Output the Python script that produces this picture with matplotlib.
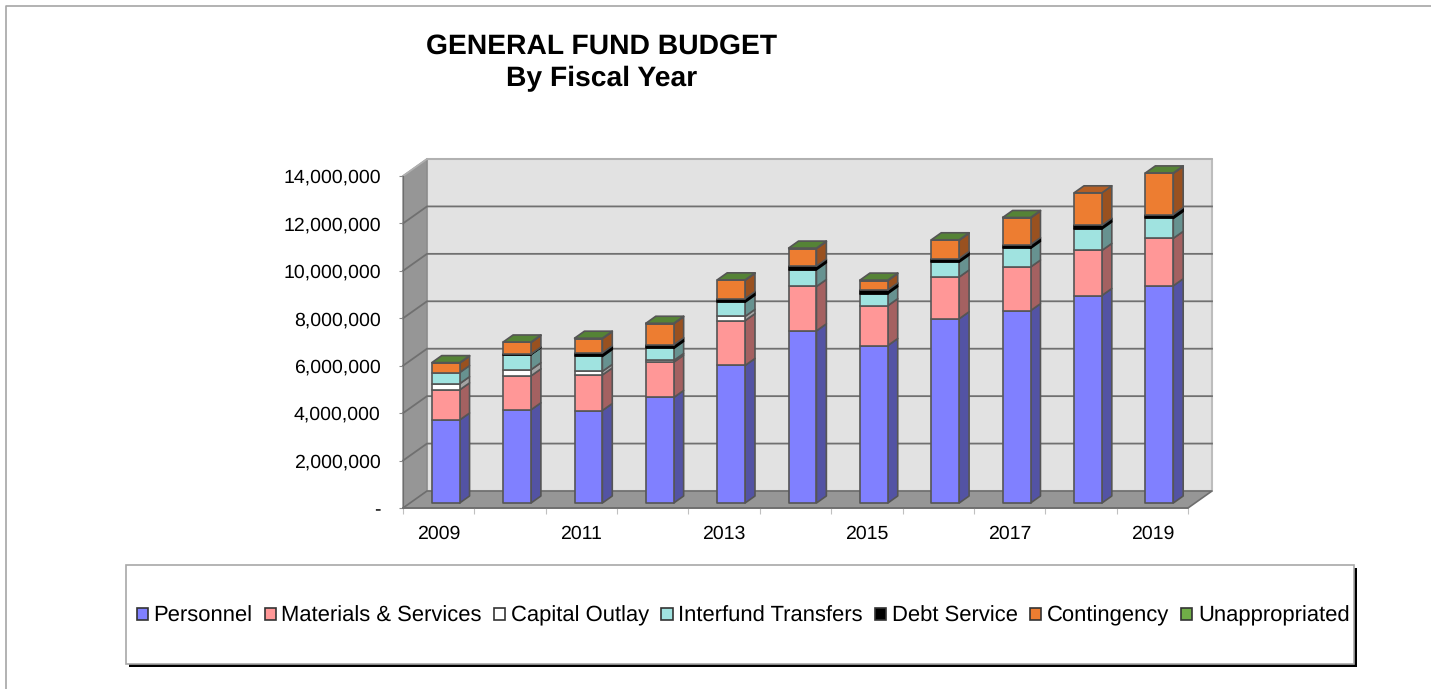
#!/usr/bin/env python
import matplotlib
matplotlib.use('Agg')
import matplotlib.pyplot as plt
from matplotlib.lines import Line2D
from matplotlib.patches import Patch, Rectangle
from matplotlib.colors import to_rgb

plt.rcParams['font.family'] = ['Liberation Sans', 'DejaVu Sans']
plt.rcParams['text.hinting'] = 'no_hinting'

W, H = 1431, 689

years = ['2009', '2010', '2011', '2012', '2013', '2014', '2015', '2016', '2017', '2018', '2019']
year_labels = ['2009', '', '2011', '', '2013', '', '2015', '', '2017', '', '2019']
series_names = ['Personnel', 'Materials & Services', 'Capital Outlay', 'Interfund Transfers',
                'Debt Service', 'Contingency', 'Unappropriated']
personnel = [3500000, 3930000, 3900000, 4450000, 5800000, 7260000, 6640000, 7770000, 8110000, 8750000, 9160000]
materials = [1270000, 1430000, 1500000, 1490000, 1890000, 1870000, 1680000, 1760000, 1840000, 1900000, 2000000]
capital = [260000, 260000, 150000, 70000, 180000, 0, 0, 0, 0, 0, 0]
interfund = [470000, 640000, 630000, 510000, 600000, 710000, 510000, 630000, 790000, 910000, 840000]
debt = [0, 20000, 150000, 150000, 150000, 150000, 150000, 150000, 150000, 150000, 160000]
contingency = [400000, 490000, 600000, 890000, 770000, 740000, 400000, 770000, 1130000, 1370000, 1740000]
unappropriated = [20000, 20000, 20000, 20000, 20000, 20000, 20000, 20000, 20000, 0, 20000]
all_series = [personnel, materials, capital, interfund, debt, contingency, unappropriated]
colors = ['#8080ff', '#ff9797', '#ffffff', '#a0e3e0', '#000000', '#ed7d31', '#70ad47']
y_ticks = [0, 2000000, 4000000, 6000000, 8000000, 10000000, 12000000, 14000000]
y_labels = ['-', '2,000,000', '4,000,000', '6,000,000', '8,000,000', '10,000,000', '12,000,000', '14,000,000']

fig = plt.figure(figsize=(W / 100, H / 100), dpi=100, facecolor='white')
ax = fig.add_axes([403 / W, 1 - 508 / H, 785 / W, 332 / H])
n = len(years)
ax.set_xlim(0, n)
ax.set_ylim(0, 14000000)

# oblique projection: d=0 is the front plane, d=1 the back wall
DX = 24 / 785 * n
DY = 17 / 332 * 14000000


def sk(x, y, d):
  return (x + d * DX, y + d * DY)


def shade(c, f):
  return tuple(v * f for v in to_rgb(c))


def poly(pts, fc, ec='#555555', lw=1.2, z=2):
  ax.fill([p[0] for p in pts], [p[1] for p in pts], fc=fc, ec=ec, lw=lw, zorder=z,
          clip_on=False, joinstyle='round')


top = y_ticks[-1]
poly([sk(0, 0, 1), sk(n, 0, 1), sk(n, top, 1), sk(0, top, 1)], '#e2e2e2', ec='#bdbdbd', lw=1.5, z=1)
poly([sk(0, 0, 0), sk(0, 0, 1), sk(0, top, 1), sk(0, top, 0)], '#969696', ec='#8a8a8a', lw=1.0, z=1)
poly([sk(0, 0, 0), sk(n, 0, 0), sk(n, 0, 1), sk(0, 0, 1)], '#969696', ec='#6e6e6e', lw=1.2, z=1)

# grid runs across the left wall and along the back wall
for v in y_ticks:
  xs, ys = zip(sk(0, v, 0), sk(0, v, 1), sk(n, v, 1))
  if v == 0:
    continue
  c = '#b0b0b0' if v == top else '#707070'
  ax.plot(xs, ys, color=c, lw=1.3, zorder=1.5, clip_on=False)

BAR_W = 0.39
D0, D1 = 5 / 17, 12 / 17
for i in range(n):
  left = i + 0.5 - BAR_W / 2
  right = left + BAR_W
  base = 0
  last = None
  for vals, c in zip(all_series, colors):
    v = vals[i]
    if v == 0:
      continue
    t = base + v
    ec = '#000000' if c == '#000000' else '#555555'
    poly([sk(right, base, D0), sk(right, base, D1), sk(right, t, D1), sk(right, t, D0)], shade(c, 0.645), ec=ec, z=3)
    poly([sk(left, base, D0), sk(right, base, D0), sk(right, t, D0), sk(left, t, D0)], c, ec=ec, z=3)
    base = t
    last = c
  poly([sk(left, base, D0), sk(right, base, D0), sk(right, base, D1), sk(left, base, D1)],
       shade(last, 0.76), z=3)

for s in ax.spines.values():
  s.set_visible(False)
ax.patch.set_visible(False)
ax.spines['left'].set_visible(True)
ax.spines['left'].set_color('#6e6e6e')
ax.spines['bottom'].set_visible(True)
ax.spines['bottom'].set_color('#6e6e6e')
ax.spines['bottom'].set_linewidth(1.2)
ax.set_yticks(y_ticks)
ax.set_yticklabels(y_labels, fontsize=14)
ax.tick_params(axis='y', length=3, color='#8a8a8a', pad=13, labelcolor='black')
ax.set_xticks(range(n + 1))
ax.set_xticklabels([])
ax.set_xticks([i + 0.5 for i in range(n)], minor=True)
ax.set_xticklabels(year_labels, minor=True, fontsize=14)
ax.tick_params(axis='x', which='minor', length=0, pad=12)
ax.tick_params(axis='x', which='major', length=4, color='#c0c0c0')

fig.text(602 / W, 1 - 46 / H, 'GENERAL FUND BUDGET', fontsize=20.3, fontweight='bold', ha='center', va='center')
fig.text(602 / W, 1 - 79 / H, 'By Fiscal Year', fontsize=20.3, fontweight='bold', ha='center', va='center')

# chart area border, top and left only
fig.add_artist(Line2D([6 / W, 6 / W, 1], [0, 1 - 6 / H, 1 - 6 / H], color='#a6a6a6', lw=1.2))

# legend box with a hard black shadow
fig.add_artist(Rectangle((129 / W, 1 - 667 / H), 1228 / W, 99 / H, fc='black', ec='none', transform=fig.transFigure))
fig.add_artist(Rectangle((125.5 / W, 1 - 664 / H), 1228.5 / W, 99 / H, fc='white', ec='#a8a8a8', lw=1.2, transform=fig.transFigure))
handles = [Patch(fc=c, ec='#333333', lw=1.2) for c in colors]
leg = fig.legend(handles, series_names, loc='center', bbox_to_anchor=(743 / W, 1 - 616 / H), ncol=7,
                 frameon=False, fontsize=15.8, handlelength=0.52, handleheight=0.52,
                 handletextpad=0.25, columnspacing=0.55, borderpad=0)

fig.savefig('out.png', dpi=100)
